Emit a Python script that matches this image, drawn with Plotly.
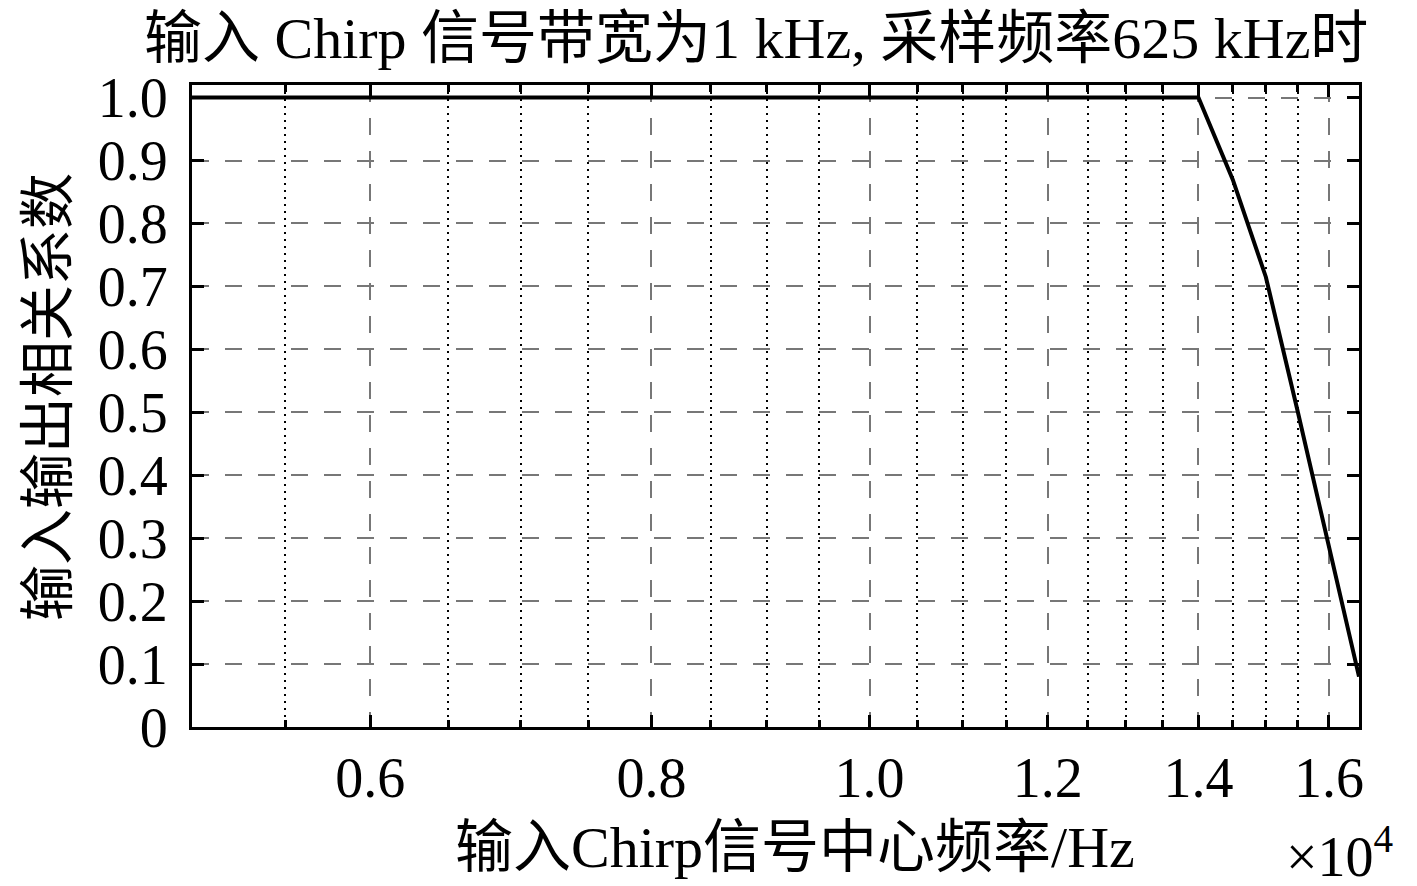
import plotly.graph_objects as go

# centre frequency of the chirp (Hz) and the in/out correlation coefficient
freq_hz = [5000, 5500, 6000, 6500, 7000, 7500, 8000, 8500, 9000, 9500,
           10000, 10500, 11000, 11500, 12000, 12500, 13000, 13500, 14000,
           14500, 15000, 15500, 16000, 16500]
corr = [1.0, 1.0, 1.0, 1.0, 1.0, 1.0, 1.0, 1.0, 1.0, 1.0,
        1.0, 1.0, 1.0, 1.0, 1.0, 1.0, 1.0, 1.0, 1.0,
        0.87, 0.715, 0.50, 0.285, 0.08]

x_major = [6000, 8000, 10000, 12000, 14000, 16000]
x_major_text = ["0.6", "0.8", "1.0", "1.2", "1.4", "1.6"]
x_minor = [5500, 6500, 7000, 7500, 8500, 9000, 9500, 10500, 11000, 11500,
           12500, 13000, 13500, 14500, 15000, 15500]
y_ticks = [0, 0.1, 0.2, 0.3, 0.4, 0.5, 0.6, 0.7, 0.8, 0.9, 1.0]
y_text = ["0", "0.1", "0.2", "0.3", "0.4", "0.5", "0.6", "0.7", "0.8", "0.9", "1.0"]

title_text = "输入 Chirp 信号带宽为1 kHz, 采样频率625 kHz时"
x_title = "输入Chirp信号中心频率/Hz"
y_title = "输入输出相关系数"

FONT = "Liberation Serif, Noto Sans CJK SC"

fig = go.Figure(go.Scatter(
    x=freq_hz, y=corr, mode="lines",
    line=dict(color="black", width=4),
    showlegend=False,
))

# page body has an 8px margin, so the figure is 8px smaller and shifted
fig.update_layout(
    width=1409, height=878,
    margin=dict(l=184, r=58, t=77, b=159),
    paper_bgcolor="white", plot_bgcolor="white",
    font=dict(family=FONT, size=56, color="black"),
)

fig.update_xaxes(
    type="log", range=[3.69897, 4.21748],
    tickmode="array", tickvals=x_major, ticktext=x_major_text,
    ticks="inside", ticklen=12, tickwidth=3, tickcolor="black",
    showline=True, linewidth=3, linecolor="black", mirror="ticks",
    showgrid=True, gridcolor="#777777", gridwidth=2, griddash="17px,16px",
    minor=dict(tickmode="array", tickvals=x_minor, ticks="inside",
               ticklen=7, tickwidth=3, tickcolor="black",
               showgrid=True, gridcolor="black", gridwidth=2,
               griddash="2px,5px"),
    ticklabelstandoff=0, zeroline=False, automargin=False,
)

fig.update_yaxes(
    range=[0, 1.02],
    tickmode="array", tickvals=y_ticks, ticktext=y_text,
    ticks="inside", ticklen=12, tickwidth=3, tickcolor="black",
    showline=True, linewidth=3, linecolor="black", mirror="ticks",
    showgrid=True, gridcolor="#777777", gridwidth=2, griddash="17px,16px",
    ticklabelstandoff=10, zeroline=False, automargin=False,
)

fig.add_annotation(text=title_text, xref="paper", yref="paper",
                   x=0.483, y=1.073, xanchor="center", yanchor="middle",
                   font=dict(size=58), showarrow=False)
fig.add_annotation(text=x_title, xref="paper", yref="paper",
                   x=0.517, y=-0.188, xanchor="center", yanchor="middle",
                   font=dict(size=58), showarrow=False)
fig.add_annotation(text=y_title, xref="paper", yref="paper",
                   x=-0.1234, y=0.514, xanchor="center", yanchor="middle",
                   textangle=-90, showarrow=False)
fig.add_annotation(text="×10<sup>4</sup>", xref="paper", yref="paper",
                   x=1.031, y=-0.196, xanchor="right", yanchor="middle",
                   showarrow=False)

fig.write_html("out.html")
